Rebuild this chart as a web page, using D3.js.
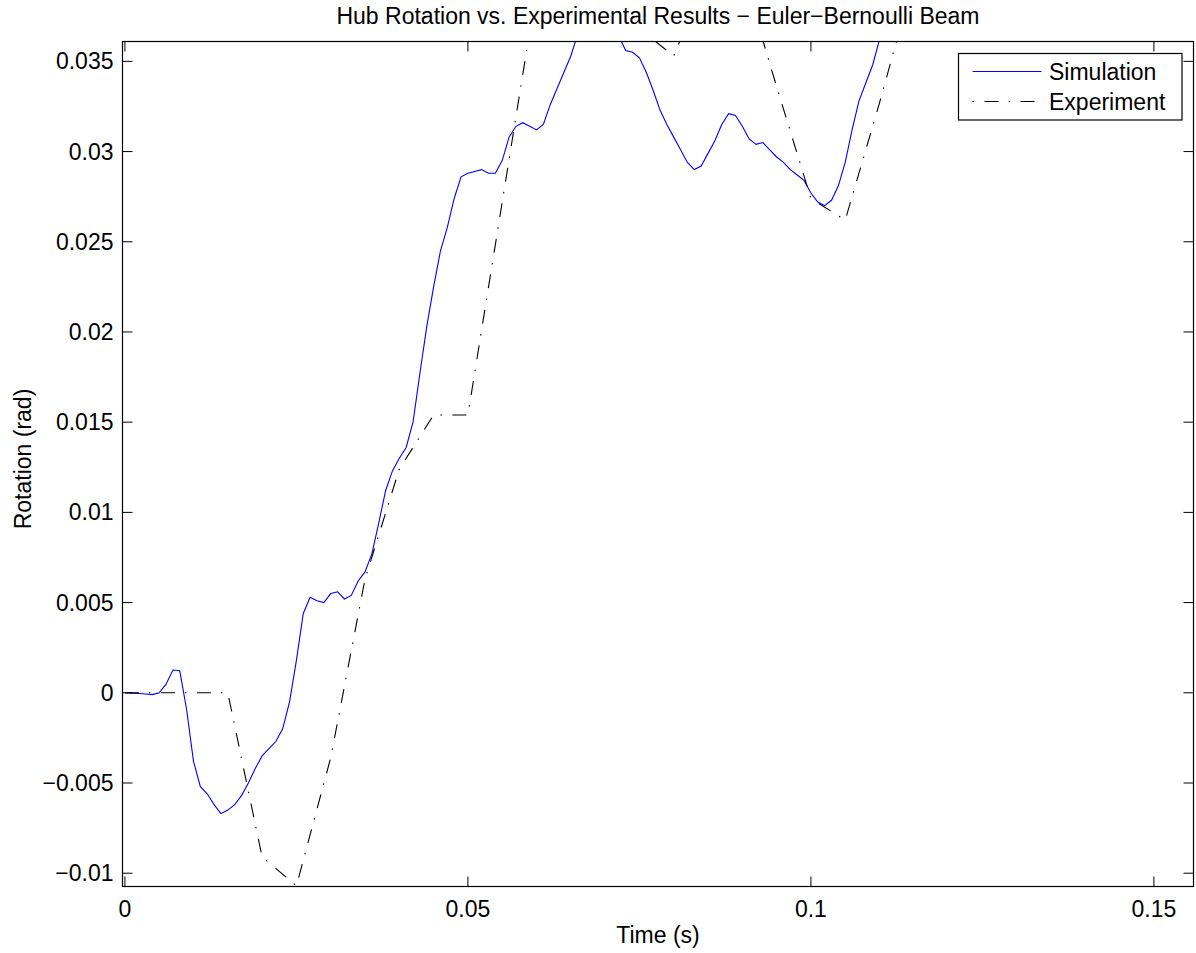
<!DOCTYPE html>
<html lang="en">
<head>
    <meta charset="UTF-8">
    <title>Hub Rotation vs. Experimental Results</title>
    <script src="https://cdnjs.cloudflare.com/ajax/libs/d3/7.8.5/d3.min.js"></script>
    <style>
        body { margin: 0; background: #fff; }
        text { font-family: "Liberation Sans", Arial, sans-serif; font-size: 23px; fill: #000; }
        .frame { fill: none; stroke: #000; stroke-width: 1.2px; }
        .tick { stroke: #000; stroke-width: 1px; }
        .sim { fill: none; stroke: #0000ff; stroke-width: 1.1px; }
        .exp { fill: none; stroke: #000; stroke-width: 1.1px; stroke-dasharray: 14,10,1.5,10.5; }
    </style>
</head>
<body>
    <div id="chart"></div>

    <script>
        // simulation, one sample per millisecond from t = 0
        const simStep = 0.001;
        const simValues = [
            0, -0.00002, -0.00004, -0.00007, -0.0001, 0, 0.00048, 0.00126, 0.00122, -0.00094,
            -0.0038, -0.0052, -0.0056, -0.0062, -0.0067, -0.0065, -0.0062, -0.0057, -0.0050, -0.0042,
            -0.0035, -0.0031, -0.0027, -0.0020, -0.0005, 0.0018, 0.0044, 0.0053, 0.0051, 0.0050,
            0.0055, 0.0056, 0.0052, 0.0054, 0.0062, 0.0067, 0.0077, 0.0094, 0.0112, 0.0123,
            0.0130, 0.0136, 0.0150, 0.0177, 0.0203, 0.0225, 0.0245, 0.0258, 0.0274, 0.0286,
            0.0288, 0.0289, 0.0290, 0.0288, 0.0288, 0.0295, 0.0308, 0.0314, 0.0316, 0.0314,
            0.0312, 0.0315, 0.0326, 0.0335, 0.0344, 0.0353, 0.0365, 0.0372, 0.0377, 0.0379,
            0.0378, 0.0373, 0.0364, 0.0356, 0.0355, 0.0352, 0.0344, 0.0334, 0.0323, 0.0315,
            0.0308, 0.0301, 0.0294, 0.0290, 0.0292, 0.0299, 0.0306, 0.0315, 0.0321, 0.0320,
            0.0314, 0.0307, 0.0304, 0.0305, 0.0301, 0.0297, 0.0294, 0.0290, 0.0287, 0.0284,
            0.0277, 0.0272, 0.0270, 0.0273, 0.0281, 0.0294, 0.0312, 0.0328, 0.0338, 0.0348,
            0.0362, 0.0372, 0.0380
        ];

        // experiment samples
        const expTime = [0, 0.005, 0.01, 0.015, 0.02, 0.025, 0.03, 0.035, 0.04, 0.045, 0.05, 0.055,
            0.06, 0.065, 0.07, 0.075, 0.08, 0.085, 0.09, 0.095, 0.1, 0.105, 0.11, 0.115];
        const expValues = [0, 0, 0, 0, -0.0091, -0.0107, -0.0036, 0.0063, 0.0124, 0.0154, 0.0154, 0.0272,
            0.0390, 0.0420, 0.0400, 0.0368, 0.0353, 0.0400, 0.0400, 0.0336, 0.0274, 0.0262, 0.0327, 0.0396];

        const xTicks = [0, 0.05, 0.1, 0.15];
        const yTicks = [-0.01, -0.005, 0, 0.005, 0.01, 0.015, 0.02, 0.025, 0.03, 0.035];
        const seriesNames = ["Simulation", "Experiment"];

        const width = 1196, height = 953;
        const mLeft = 122.5, mTop = 41.5, mRight = 1193.5, mBottom = 886.5;

        const x = d3.scaleLinear().domain([-0.00035, 0.15577]).range([mLeft, mRight]);
        const y = d3.scaleLinear().domain([-0.010737, 0.036101]).range([mBottom, mTop]);

        const fmt = v => v === 0 ? "0" : (v < 0 ? "\u2212" : "") + String(+Math.abs(v).toFixed(4));

        const svg = d3.select("#chart").append("svg")
            .attr("width", width)
            .attr("height", height);

        svg.append("defs").append("clipPath").attr("id", "plot")
            .append("rect")
            .attr("x", mLeft).attr("y", mTop)
            .attr("width", mRight - mLeft).attr("height", mBottom - mTop);

        // lines
        const line = d3.line().x(d => x(d[0])).y(d => y(d[1]));
        const simData = simValues.map((v, i) => [i * simStep, v]);
        const expData = expTime.map((t, i) => [t, expValues[i]]);

        const plot = svg.append("g").attr("clip-path", "url(#plot)");
        plot.append("path").attr("class", "sim").attr("d", line(simData));
        plot.append("path").attr("class", "exp").attr("d", line(expData));

        // ticks on all four sides, pointing inward
        const tl = 10;
        const ticks = svg.append("g");
        xTicks.forEach(t => {
            ticks.append("line").attr("class", "tick")
                .attr("x1", x(t)).attr("x2", x(t)).attr("y1", mBottom).attr("y2", mBottom - tl);
            ticks.append("line").attr("class", "tick")
                .attr("x1", x(t)).attr("x2", x(t)).attr("y1", mTop).attr("y2", mTop + tl);
            svg.append("text")
                .attr("x", x(t)).attr("y", mBottom + 30)
                .attr("text-anchor", "middle")
                .text(fmt(t));
        });
        yTicks.forEach(t => {
            ticks.append("line").attr("class", "tick")
                .attr("x1", mLeft).attr("x2", mLeft + tl).attr("y1", y(t)).attr("y2", y(t));
            ticks.append("line").attr("class", "tick")
                .attr("x1", mRight).attr("x2", mRight - tl).attr("y1", y(t)).attr("y2", y(t));
            svg.append("text")
                .attr("x", mLeft - 9).attr("y", y(t) + 8)
                .attr("text-anchor", "end")
                .text(fmt(t));
        });

        svg.append("rect").attr("class", "frame")
            .attr("x", mLeft).attr("y", mTop)
            .attr("width", mRight - mLeft).attr("height", mBottom - mTop);

        // titles
        svg.append("text")
            .attr("x", (mLeft + mRight) / 2).attr("y", 24)
            .attr("text-anchor", "middle")
            .text("Hub Rotation vs. Experimental Results \u2212 Euler\u2212Bernoulli Beam");
        svg.append("text")
            .attr("x", (mLeft + mRight) / 2).attr("y", 943)
            .attr("text-anchor", "middle")
            .text("Time (s)");
        svg.append("text")
            .attr("transform", "translate(31," + 459 + ") rotate(-90)")
            .attr("text-anchor", "middle")
            .text("Rotation (rad)");

        // legend
        const legend = svg.append("g");
        legend.append("rect")
            .attr("x", 958.5).attr("y", 53.5).attr("width", 223.5).attr("height", 66.5)
            .attr("fill", "#fff").attr("stroke", "#000").attr("stroke-width", 1.2);
        legend.append("line").attr("class", "sim")
            .attr("x1", 972.5).attr("x2", 1041.5).attr("y1", 71.5).attr("y2", 71.5);
        legend.append("line").attr("class", "exp")
            .attr("stroke-dashoffset", 24)
            .attr("x1", 972.5).attr("x2", 1041.5).attr("y1", 101.5).attr("y2", 101.5);
        legend.append("text").attr("x", 1049).attr("y", 80).text(seriesNames[0]);
        legend.append("text").attr("x", 1049).attr("y", 110).text(seriesNames[1]);
    </script>
</body>
</html>
